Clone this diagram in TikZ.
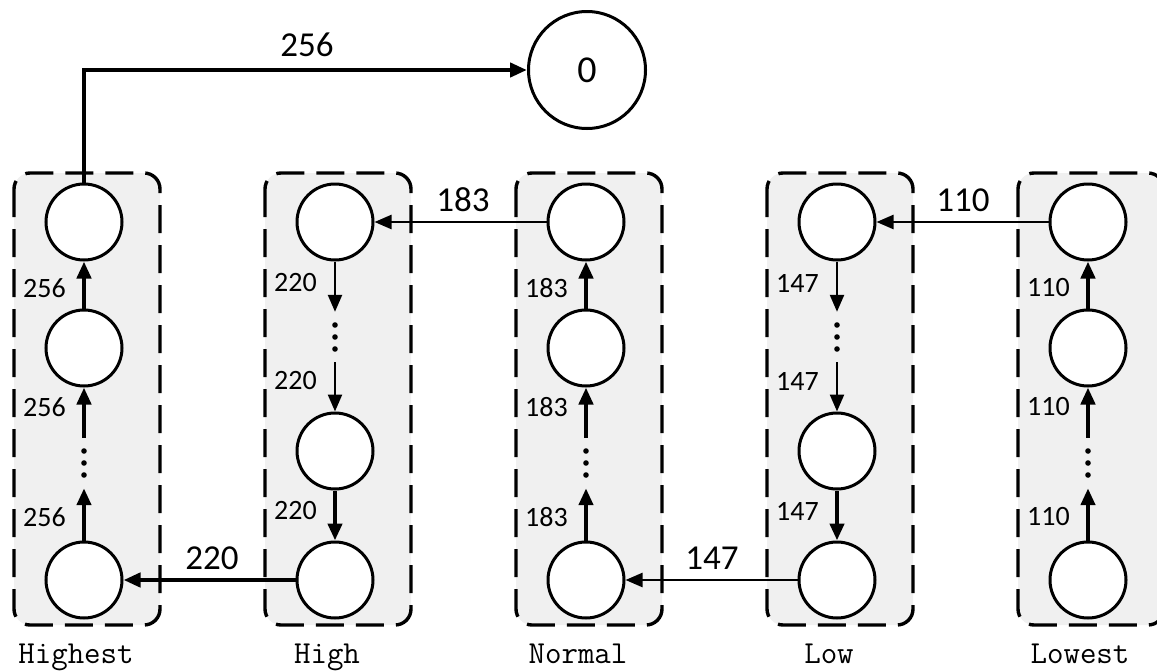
\documentclass[tikz,border=0pt]{standalone}
\usepackage{fontspec}
\setmainfont{Carlito}
\usetikzlibrary{arrows.meta}
\begin{document}
\begin{tikzpicture}[x=1pt,y=-1pt,
  grp/.style={draw, line width=3.4pt, dash pattern=on 28pt off 12pt, rounded corners=16pt, fill=black!6},
  st/.style={circle, draw, line width=3pt, fill=white, minimum size=76pt, inner sep=0pt},
  zst/.style={circle, draw, line width=3pt, fill=white, minimum size=117pt, inner sep=0pt, font=\fontsize{38}{40}\selectfont},
  dotn/.style={minimum width=8pt, minimum height=50pt, inner sep=0pt},
  thk/.style={line width=4.4pt, -{Triangle[length=17pt,width=14pt]}},
  thn/.style={line width=2.4pt, -{Triangle[length=17pt,width=14pt]}},
  wt/.style={font=\fontsize{28}{30}\selectfont, anchor=east, inner sep=0pt},
  big/.style={font=\fontsize{35}{40}\selectfont, inner sep=0pt},
  lvl/.style={font=\ttfamily\fontsize{32}{34}\selectfont, anchor=base, inner sep=0pt}
]
\useasboundingbox (0,0) rectangle (1157,670);
% columns with upward chains
\foreach \n/\x/\w/\lab in {hi/84/256/Highest, no/586/183/Normal, lw/1088/110/Lowest} {
  \draw[grp] (\x-70,173) rectangle (\x+76,625);
  \node[st] (\n1) at (\x,222) {};
  \node[st] (\n2) at (\x,348) {};
  \node[st] (\n3) at (\x,580) {};
  \node[dotn] (\n d) at (\x,463) {};
  \fill (\x,451) circle (2.8pt) (\x,463) circle (2.8pt) (\x,475) circle (2.8pt);
  \draw[thk] (\n3) -- (\n d);
  \draw[thk] (\n d) -- (\n2);
  \draw[thk] (\n2) -- (\n1);
  \node[wt] (\n w1) at (\x-18,288) {\w};
  \node[wt] (\n w2) at (\x-18,407) {\w};
  \node[wt] (\n w3) at (\x-18,517) {\w};
  \node[lvl] (\n l) at (\x-8,663) {\lab};
}
% columns with downward chains
\foreach \n/\x/\w/\lab in {hg/335/220/High, lo/837/147/Low} {
  \draw[grp] (\x-70,173) rectangle (\x+76,625);
  \node[st] (\n1) at (\x,222) {};
  \node[dotn] (\n d) at (\x,337) {};
  \node[st] (\n2) at (\x,451) {};
  \node[st] (\n3) at (\x,580) {};
  \fill (\x,325) circle (2.8pt) (\x,337) circle (2.8pt) (\x,349) circle (2.8pt);
  \draw[thn] (\n1) -- (\n d);
  \draw[thn] (\n d) -- (\n2);
  \draw[thk] (\n2) -- (\n3);
  \node[wt] (\n w1) at (\x-18,283) {\w};
  \node[wt] (\n w2) at (\x-18,381) {\w};
  \node[wt] (\n w3) at (\x-18,511) {\w};
  \node[lvl] (\n l) at (\x-8,663) {\lab};
}
% final node
\node[zst] (zero) at (587,70) {0};
\coordinate (bend) at (hi1.north |- zero.west);
\draw[thk] (hi1.north) -- (bend) -- (zero.west);
\node[big] (t256) at (307,45) {256};
% horizontal links
\draw[thk] (hg3) -- (hi3);
\node[big] (t220) at (212,558) {220};
\draw[thn] (no1) -- (hg1);
\node[big] (t183) at (463,200) {183};
\draw[thn] (lo3) -- (no3);
\node[big] (t147) at (712,558) {147};
\draw[thn] (lw1) -- (lo1);
\node[big] (t110) at (963,200) {110};
\end{tikzpicture}
\end{document}
